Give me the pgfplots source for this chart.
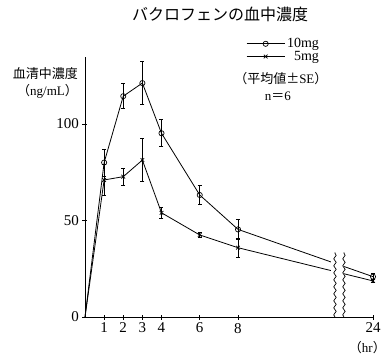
\documentclass[border=0pt]{standalone}
\usepackage{pgfplots}
\pgfplotsset{compat=1.18}
\usepackage{fontspec}
\setmainfont{Liberation Serif}
\newfontfamily\cjk{Noto Sans CJK JP}
\usetikzlibrary{decorations.pathmorphing}
\begin{document}
\begin{tikzpicture}[x=1pt,y=1pt]
\path[use as bounding box] (0,0) rectangle (389,360);
\begin{axis}[
  at={(85pt,43pt)}, anchor=south west,
  scale only axis, width=288pt, height=260pt,
  xmin=0, xmax=15.06, ymin=0, ymax=134.7,
  axis lines*=left, axis line style={line width=0.8pt,-},
  xtick={1,2,3,4,6,8,15.06}, xticklabels={1,2,3,4,6,8,24},
  ytick={0,50,100},
  tick align=center, major tick length=5pt,
  tick style={line width=0.8pt,black},
  tick label style={font=\fontsize{15}{16}\selectfont},
  /pgf/number format/assume math mode=true,
  clip=false,
  legend style={at={(0.82,1.08)}, anchor=north east, draw=none, fill=none,
    font=\fontsize{14}{13}\selectfont, inner sep=0pt, row sep=-2pt,
    cells={anchor=east}},
  legend cell align=right,
  legend image code/.code={\draw[mark repeat=2,mark phase=2] plot coordinates {(0pt,0pt) (19pt,0pt) (38pt,0pt)};},
]
% lines from origin
\addplot[black, line width=0.8pt, forget plot] coordinates {(0,0) (1,80.0)};
\addplot[black, line width=0.8pt, forget plot] coordinates {(0,0) (1,71.0)};
% 10 mg
\addplot[black, line width=0.8pt, mark=o, mark size=2.6pt, mark options={fill=white, line width=0.7pt},
  error bars/.cd, y dir=both, y explicit,
  error bar style={line width=0.8pt},
  error mark options={rotate=90, mark size=2pt, line width=0.8pt}]
  coordinates {
  (1,80.0) +- (0,7)
  (2,114.4) +- (0,6.5)
  (3,121.2) +- (0,11)
  (4,95.2) +- (0,7)
  (6,63.2) +- (0,5)
  (8,45.4) +- (0,5)
  (15.06,20.9) +- (0,1.5)
  };
\addlegendentry{10mg}
% 5 mg
\addplot[black, line width=0.8pt, mark=x, mark size=2.6pt, mark options={line width=0.7pt},
  error bars/.cd, y dir=both, y explicit,
  error bar style={line width=0.8pt},
  error mark options={rotate=90, mark size=2pt, line width=0.8pt}]
  coordinates {
  (1,71.0) +- (0,8)
  (2,72.7) +- (0,4.5)
  (3,81.3) +- (0,11)
  (4,54.0) +- (0,3)
  (6,42.5) +- (0,1.5)
  (8,35.9) +- (0,5)
  (15.06,18.7) +- (0,1)
  };
\addlegendentry{5mg}
% axis break
\fill[white] (axis cs:12.85,1) rectangle (axis cs:13.54,33.5);
\draw[line width=0.7pt, decorate, decoration={snake, amplitude=1.2pt, segment length=7pt}] (axis cs:13.07,0) -- (axis cs:13.07,33.5);
\draw[line width=0.7pt, decorate, decoration={snake, amplitude=1.2pt, segment length=7pt}] (axis cs:13.54,0) -- (axis cs:13.54,33.5);
% texts
\node[font=\cjk\fontsize{16}{16}\selectfont] at (axis description cs:0.469,1.162) {バクロフェンの血中濃度};
\node[anchor=east, inner sep=0pt, font=\cjk\fontsize{13}{13}\selectfont] at (axis description cs:-0.024,0.938) {血清中濃度};
\node[anchor=east, inner sep=0pt, font=\fontsize{13}{13}\selectfont] at (axis description cs:-0.024,0.869) {{\cjk （}ng/mL{\cjk ）}};
\node[inner sep=0pt, font=\fontsize{13}{13}\selectfont] at (axis description cs:0.68,0.919) {{\cjk （平均値±}SE{\cjk ）}};
\node[inner sep=0pt, font=\fontsize{13}{13}\selectfont] at (axis description cs:0.67,0.85) {n{\cjk ＝}6};
\node[anchor=east, inner sep=0pt, font=\fontsize{13}{13}\selectfont] at (axis description cs:1.045,-0.119) {{\cjk （}hr{\cjk ）}};
\end{axis}
\end{tikzpicture}
\end{document}
